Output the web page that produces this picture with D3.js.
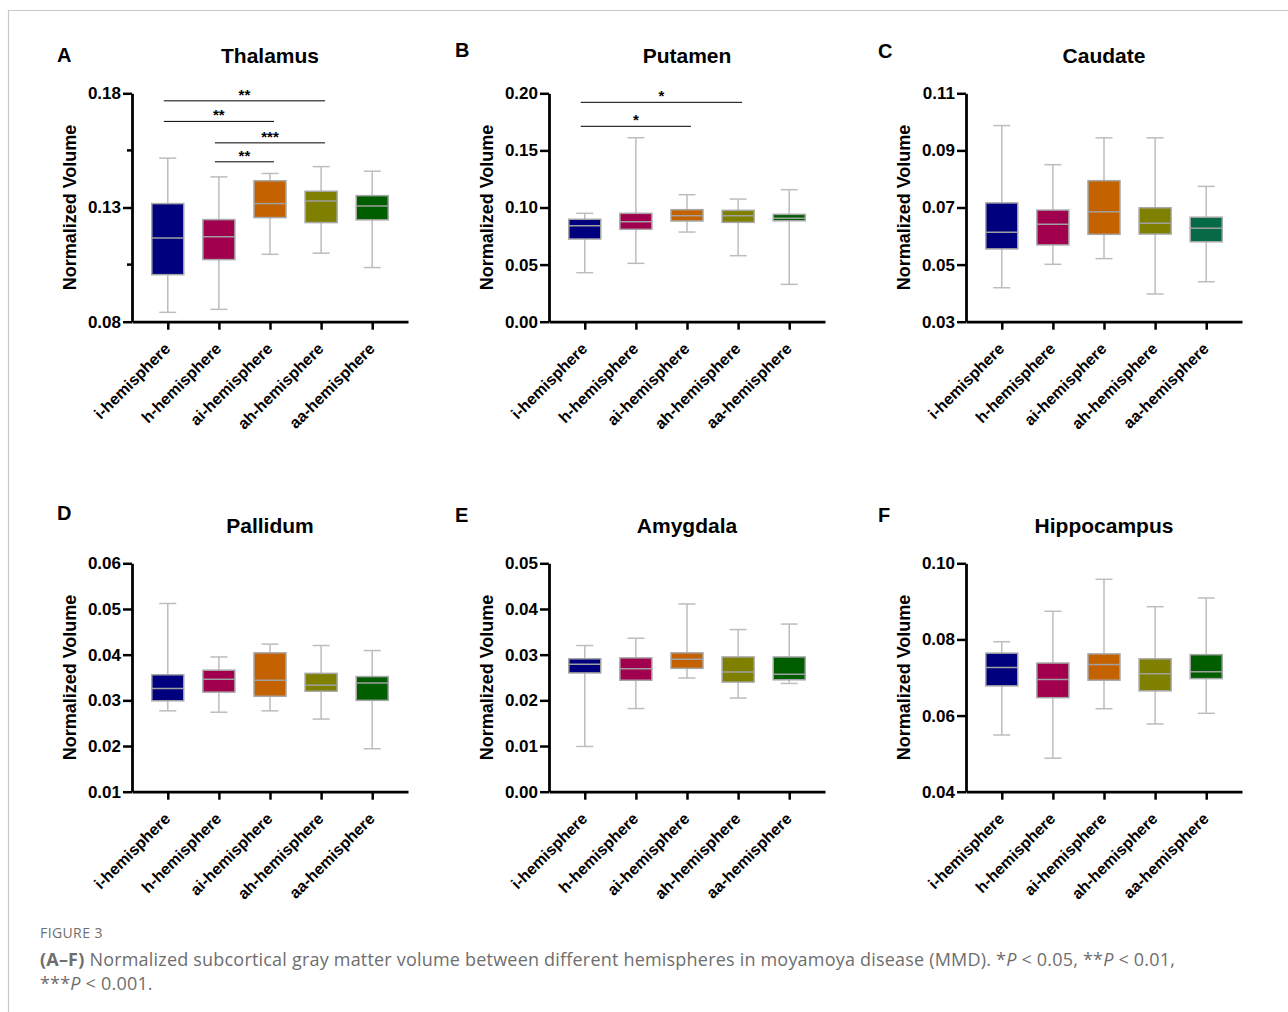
<!DOCTYPE html>
<html>
<head>
<meta charset="utf-8">
<script src="https://cdn.jsdelivr.net/npm/d3@7"></script>
<style>
  body { margin: 0; background: #fff; }
  svg { display: block; }
</style>
</head>
<body>
<div id="Figure"></div>
<script>
// hemisphere groups, same order in every panel
var categories = ["i-hemisphere", "h-hemisphere", "ai-hemisphere", "ah-hemisphere", "aa-hemisphere"];
var panelLetters = ["A", "B", "C", "D", "E", "F"];
var regions = ["Thalamus", "Putamen", "Caudate", "Pallidum", "Amygdala", "Hippocampus"];

// y ranges and tick labels for each panel
var yDomains = [[0.08, 0.18], [0, 0.20], [0.03, 0.11], [0.01, 0.06], [0, 0.05], [0.04, 0.10]];
var yTicks = [
  [0.08, 0.13, 0.18],
  [0, 0.05, 0.10, 0.15, 0.20],
  [0.03, 0.05, 0.07, 0.09, 0.11],
  [0.01, 0.02, 0.03, 0.04, 0.05, 0.06],
  [0, 0.01, 0.02, 0.03, 0.04, 0.05],
  [0.04, 0.06, 0.08, 0.10]
];
var yMinorTicks = [[0.105, 0.155], [], [], [], [], []];

// box stats per group: [min, q1, median, q3, max]
var thalamus = [
  [0.0841, 0.1006, 0.1166, 0.1317, 0.1516],
  [0.0854, 0.1072, 0.1172, 0.1247, 0.1434],
  [0.1095, 0.1256, 0.1317, 0.1417, 0.1449],
  [0.1100, 0.1234, 0.1328, 0.1371, 0.1479],
  [0.1037, 0.1246, 0.1307, 0.1352, 0.1459]
];
var putamen = [
  [0.0429, 0.0724, 0.0841, 0.0897, 0.0949],
  [0.0511, 0.0809, 0.0876, 0.0949, 0.1611],
  [0.0785, 0.0882, 0.0928, 0.0981, 0.1112],
  [0.0578, 0.0870, 0.0928, 0.0975, 0.1074],
  [0.0327, 0.0884, 0.0905, 0.0940, 0.1156]
];
var caudate = [
  [0.0419, 0.0555, 0.0613, 0.0716, 0.0987],
  [0.0501, 0.0569, 0.0641, 0.0691, 0.0850],
  [0.0521, 0.0606, 0.0685, 0.0794, 0.0944],
  [0.0397, 0.0607, 0.0645, 0.0699, 0.0944],
  [0.0440, 0.0580, 0.0627, 0.0666, 0.0774]
];
var pallidum = [
  [0.0277, 0.0299, 0.0326, 0.0356, 0.0512],
  [0.0274, 0.0318, 0.0346, 0.0366, 0.0395],
  [0.0277, 0.0309, 0.0344, 0.0404, 0.0423],
  [0.0259, 0.0320, 0.0333, 0.0359, 0.0420],
  [0.0194, 0.0300, 0.0338, 0.0352, 0.0409]
];
var amygdala = [
  [0.0099, 0.0260, 0.0279, 0.0291, 0.0320],
  [0.0182, 0.0244, 0.0269, 0.0293, 0.0336],
  [0.0249, 0.0270, 0.0290, 0.0304, 0.0411],
  [0.0205, 0.0240, 0.0262, 0.0295, 0.0355],
  [0.0237, 0.0245, 0.0257, 0.0295, 0.0367]
];
var hippocampus = [
  [0.0549, 0.0678, 0.0726, 0.0764, 0.0794],
  [0.0488, 0.0647, 0.0695, 0.0738, 0.0874],
  [0.0618, 0.0693, 0.0734, 0.0762, 0.0958],
  [0.0578, 0.0665, 0.0710, 0.0749, 0.0886],
  [0.0606, 0.0697, 0.0715, 0.0760, 0.0909]
];
var panelStats = [thalamus, putamen, caudate, pallidum, amygdala, hippocampus];

// significance brackets: group index from/to, height in data units
var thalamusSig = [
  {from: 0, to: 3, at: 0.1767, label: "**"},
  {from: 0, to: 2, at: 0.1677, label: "**"},
  {from: 1, to: 3, at: 0.1583, label: "***"},
  {from: 1, to: 2, at: 0.1500, label: "**"}
];
var putamenSig = [
  {from: 0, to: 3, at: 0.1921, label: "*"},
  {from: 0, to: 2, at: 0.1711, label: "*"}
];
var panelSig = [thalamusSig, putamenSig, [], [], [], []];

var groupColors = ["#00007f", "#a0004e", "#c46200", "#808000", "#005e00"];
var caudateColors = ["#00007f", "#a0004e", "#c46200", "#808000", "#076a46"];

// layout
var W = 1288, H = 1012;
var plotW = 276, plotH = 228.4;
var colX = [132, 549, 966];
var rowY = [93.3, 563.3];
var letterX = [57, 455, 878];
var letterY = [[62, 57, 58], [520, 522, 522]];
var FONT = "'Liberation Sans', Arial, Helvetica, sans-serif";

var svg = d3.select("#Figure")
    .append("svg")
    .attr("width", W)
    .attr("height", H)
    .style("font-family", FONT);

svg.append("rect").attr("width", W).attr("height", H).attr("fill", "#fff");

// thin frame around the figure
svg.append("path")
    .attr("d", "M8.5," + H + " V10.5 H" + W)
    .attr("fill", "none")
    .attr("stroke", "#c8c8c8")
    .attr("stroke-width", 1.2);

panelStats.forEach(function(stats, p) {
    var col = p % 3, row = Math.floor(p / 3);
    var ox = colX[col], oy = rowY[row];
    var colors = p === 2 ? caudateColors : groupColors;

    var g = svg.append("g").attr("transform", "translate(" + ox + "," + oy + ")");

    var y = d3.scaleLinear().domain(yDomains[p]).range([plotH, 0]);
    var x = d3.scalePoint().domain(categories).range([0, plotW]).padding(0.7);

    // panel letter + title
    svg.append("text")
        .attr("x", letterX[col])
        .attr("y", letterY[row][col])
        .style("font-size", "20px")
        .style("font-weight", "bold")
        .text(panelLetters[p]);

    g.append("text")
        .attr("x", plotW / 2)
        .attr("y", -30.5)
        .attr("text-anchor", "middle")
        .style("font-size", "21px")
        .style("font-weight", "bold")
        .text(regions[p]);

    g.append("text")
        .attr("transform", "translate(-62," + (plotH / 2) + ") rotate(-90)")
        .attr("dy", ".35em")
        .attr("text-anchor", "middle")
        .style("font-size", "18px")
        .style("font-weight", "bold")
        .text("Normalized Volume");

    // whiskers, boxes, medians
    var boxW = 32, capW = 17;
    var grp = g.selectAll(".box")
        .data(stats)
        .enter().append("g")
        .attr("class", "box")
        .attr("transform", function(d, i) { return "translate(" + x(categories[i]) + ",0)"; });

    grp.append("line")
        .attr("y1", function(d) { return y(d[0]); })
        .attr("y2", function(d) { return y(d[4]); })
        .attr("stroke", "#bdbdbd").attr("stroke-width", 1.5);
    grp.append("line")
        .attr("x1", -capW / 2).attr("x2", capW / 2)
        .attr("y1", function(d) { return y(d[0]); })
        .attr("y2", function(d) { return y(d[0]); })
        .attr("stroke", "#bdbdbd").attr("stroke-width", 1.5);
    grp.append("line")
        .attr("x1", -capW / 2).attr("x2", capW / 2)
        .attr("y1", function(d) { return y(d[4]); })
        .attr("y2", function(d) { return y(d[4]); })
        .attr("stroke", "#bdbdbd").attr("stroke-width", 1.5);
    grp.append("rect")
        .attr("x", -boxW / 2)
        .attr("width", boxW)
        .attr("y", function(d) { return y(d[3]); })
        .attr("height", function(d) { return y(d[1]) - y(d[3]); })
        .attr("fill", function(d, i) { return colors[i]; })
        .attr("stroke", "#a6a6a6").attr("stroke-width", 1.5);
    grp.append("line")
        .attr("x1", -boxW / 2).attr("x2", boxW / 2)
        .attr("y1", function(d) { return y(d[2]); })
        .attr("y2", function(d) { return y(d[2]); })
        .attr("stroke", "#a0a0a0").attr("stroke-width", 1.5);

    // axes
    var yAxis = g.append("g")
        .call(d3.axisLeft(y).tickValues(yTicks[p]).tickFormat(d3.format(".2f"))
              .tickSize(9).tickPadding(2).tickSizeOuter(0));
    yAxis.selectAll("text").style("font-size", "17px").style("font-weight", "bold")
        .style("font-family", FONT).attr("fill", "#000");
    yAxis.selectAll("line").attr("stroke", "#000").attr("stroke-width", 2.5);
    yAxis.select(".domain").attr("stroke", "#000").attr("stroke-width", 2.8);

    yMinorTicks[p].forEach(function(v) {
        g.append("line")
            .attr("x1", -5).attr("x2", 0)
            .attr("y1", y(v)).attr("y2", y(v))
            .attr("stroke", "#000").attr("stroke-width", 2.5);
    });

    var xAxis = g.append("g")
        .attr("transform", "translate(0," + plotH + ")")
        .call(d3.axisBottom(x).tickSize(8).tickSizeOuter(0));
    xAxis.select(".domain").attr("stroke", "#000").attr("stroke-width", 2.8);
    xAxis.selectAll("line").attr("stroke", "#000").attr("stroke-width", 2.5);
    xAxis.selectAll("text")
        .attr("y", null).attr("dy", null)
        .attr("transform", "translate(3,28) rotate(-45)")
        .attr("text-anchor", "end")
        .attr("fill", "#000")
        .style("font-size", "16px")
        .style("font-weight", "bold")
        .style("font-family", FONT);

    // significance brackets
    panelSig[p].forEach(function(s) {
        var x1 = x(categories[s.from]) - 4, x2 = x(categories[s.to]) + 4;
        g.append("line")
            .attr("x1", x1).attr("x2", x2)
            .attr("y1", y(s.at)).attr("y2", y(s.at))
            .attr("stroke", "#000").attr("stroke-width", 1);
        g.append("text")
            .attr("x", (x1 + x2) / 2)
            .attr("y", y(s.at) - 1)
            .attr("text-anchor", "middle")
            .style("font-size", "15px")
            .style("font-weight", "bold")
            .text(s.label);
    });
});

// caption
var cap = svg.append("g").style("font-family", "'Open Sans', 'Noto Sans', sans-serif").attr("fill", "#6e6e6e");
cap.append("text")
    .attr("x", 40).attr("y", 938)
    .style("font-size", "14px")
    .style("letter-spacing", "0.4px")
    .text("FIGURE 3");
var l1 = cap.append("text").attr("x", 40).attr("y", 966)
    .style("font-size", "18px").style("letter-spacing", "0.2px");
l1.append("tspan").style("font-weight", "bold").text("(A–F)");
l1.append("tspan").text(" Normalized subcortical gray matter volume between different hemispheres in moyamoya disease (MMD). *");
l1.append("tspan").style("font-style", "italic").text("P");
l1.append("tspan").text(" < 0.05, **");
l1.append("tspan").style("font-style", "italic").text("P");
l1.append("tspan").text(" < 0.01,");
var l2 = cap.append("text").attr("x", 40).attr("y", 990)
    .style("font-size", "18px").style("letter-spacing", "0.2px");
l2.append("tspan").text("***");
l2.append("tspan").style("font-style", "italic").text("P");
l2.append("tspan").text(" < 0.001.");
</script>
</body>
</html>
